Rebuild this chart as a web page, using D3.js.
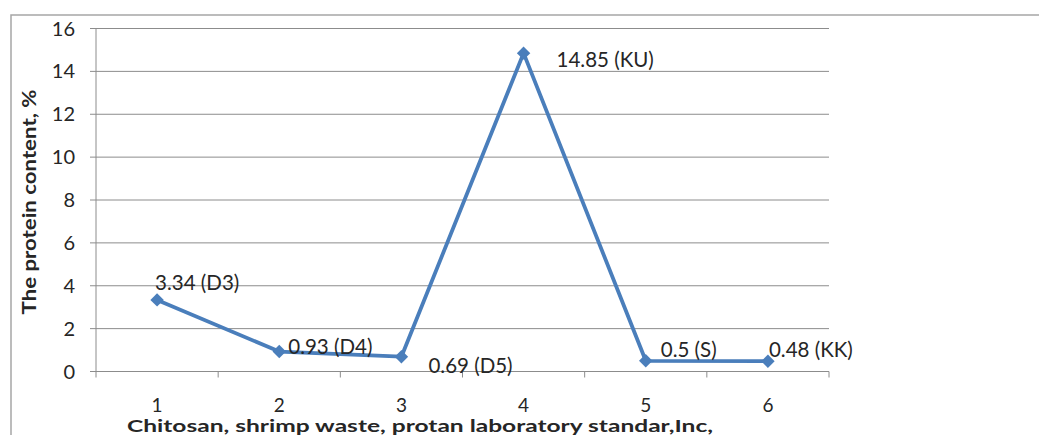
<!DOCTYPE html>
<html>
<head>
<meta charset="utf-8">
<script src="https://cdn.jsdelivr.net/npm/d3@7"></script>
<style>
	body { margin: 0; background: #fff; }
	text { font-family: Lato, "Open Sans", sans-serif; fill: #262626; }
</style>
</head>
<body>
<svg id="chart" width="1039" height="435"></svg>
<script>
var categories = ['1', '2', '3', '4', '5', '6'];
var protein = [3.34, 0.93, 0.69, 14.85, 0.5, 0.48];
var sampleCodes = ['D3', 'D4', 'D5', 'KU', 'S', 'KK'];
var yTicks = [0, 2, 4, 6, 8, 10, 12, 14, 16];

// where each data label sits relative to its point (Excel placed them by hand)
var labelOffsets = [[-2, -17], [9, -5], [27, 9], [33, 7], [15, -11], [1, -11]];

var svg = d3.select('#chart');

// note: "top" is taken by window.top, so plot edges get their own names
var plotLeft = 96, plotRight = 829, plotTop = 28.5, plotBottom = 371.5;

var x = d3.scaleBand().domain(categories).range([plotLeft, plotRight]);
var y = d3.scaleLinear().domain([0, 16]).range([plotBottom, plotTop]);

function cx (c) {
	return x(c) + x.bandwidth() / 2;
};

// outer chart frame
svg.append('rect')
	.attr('x', 11)
	.attr('y', 15)
	.attr('width', 1100)
	.attr('height', 500)
	.attr('fill', 'none')
	.attr('stroke', '#a6a6a6')
	.attr('stroke-width', 1.5);

// gridlines + y ticks
svg.append('g')
	.selectAll('line')
	.data(yTicks)
	.enter()
	.append('line')
	.attr('x1', plotLeft - 6)
	.attr('x2', plotRight)
	.attr('y1', function (d) { return y(d); })
	.attr('y2', function (d) { return y(d); })
	.attr('stroke', '#8c8c8c')
	.attr('stroke-width', 1);

svg.append('g')
	.selectAll('text')
	.data(yTicks)
	.enter()
	.append('text')
	.attr('x', 75)
	.attr('y', function (d) { return y(d); })
	.attr('dy', '0.35em')
	.attr('text-anchor', 'end')
	.style('font-size', '20px')
	.text(function (d) { return d; });

// y axis line
svg.append('line')
	.attr('x1', plotLeft).attr('x2', plotLeft)
	.attr('y1', plotTop).attr('y2', plotBottom)
	.attr('stroke', '#8c8c8c');

// x tick marks at the category edges
var edges = categories.map(function (c) { return x(c); }).concat([plotRight]);
svg.append('g')
	.selectAll('line')
	.data(edges)
	.enter()
	.append('line')
	.attr('x1', function (d) { return d; })
	.attr('x2', function (d) { return d; })
	.attr('y1', plotBottom)
	.attr('y2', plotBottom + 6)
	.attr('stroke', '#8c8c8c');

svg.append('g')
	.selectAll('text')
	.data(categories)
	.enter()
	.append('text')
	.attr('x', cx)
	.attr('y', 405)
	.attr('dy', '0.35em')
	.attr('text-anchor', 'middle')
	.style('font-size', '19px')
	.text(function (d) { return d; });

// axis titles
svg.append('text')
	.attr('x', 420)
	.attr('y', 426)
	.attr('dy', '0.35em')
	.attr('text-anchor', 'middle')
	.attr('textLength', 586)
	.attr('lengthAdjust', 'spacingAndGlyphs')
	.style('font-size', '17px')
	.style('font-weight', 'bold')
	.text('Chitosan, shrimp waste, protan laboratory standar,Inc,');

svg.append('text')
	.attr('transform', 'translate(30,202) rotate(-90)')
	.attr('dy', '0.35em')
	.attr('text-anchor', 'middle')
	.attr('textLength', 225)
	.attr('lengthAdjust', 'spacingAndGlyphs')
	.style('font-size', '18px')
	.style('font-weight', 'bold')
	.text('The protein content, %');

// the series
var line = d3.line()
	.x(function (d, i) { return cx(categories[i]); })
	.y(function (d) { return y(d); });

svg.append('path')
	.datum(protein)
	.attr('d', line)
	.attr('fill', 'none')
	.attr('stroke', '#4a7ebb')
	.attr('stroke-width', 3.8)
	.attr('stroke-linejoin', 'round');

svg.append('g')
	.selectAll('path')
	.data(protein)
	.enter()
	.append('path')
	.attr('d', d3.symbol().type(d3.symbolDiamond2).size(115))
	.attr('transform', function (d, i) { return 'translate(' + cx(categories[i]) + ',' + y(d) + ')'; })
	.attr('fill', '#4a7ebb');

svg.append('g')
	.selectAll('text')
	.data(protein)
	.enter()
	.append('text')
	.attr('x', function (d, i) { return cx(categories[i]) + labelOffsets[i][0]; })
	.attr('y', function (d, i) { return y(d) + labelOffsets[i][1]; })
	.attr('dy', '0.35em')
	.style('font-size', '20.5px')
	.text(function (d, i) { return d + ' (' + sampleCodes[i] + ')'; });
</script>
</body>
</html>
